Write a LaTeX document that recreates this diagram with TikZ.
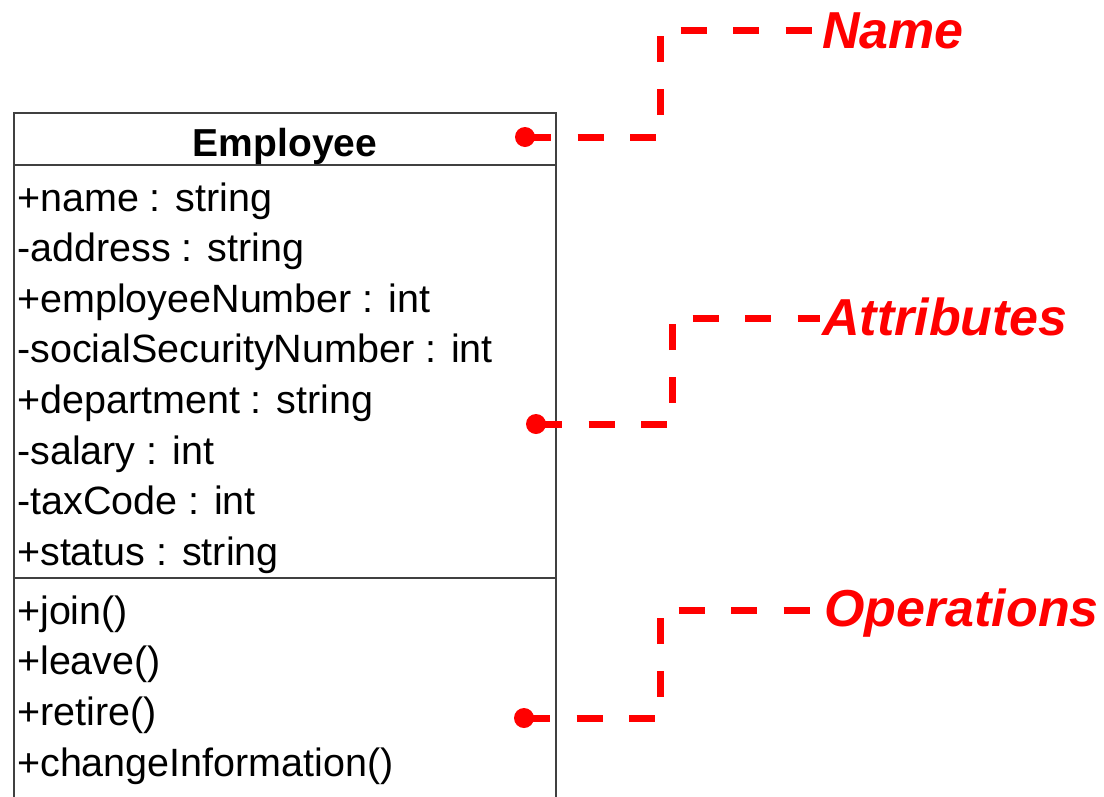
\documentclass[tikz,border=0pt]{standalone}
\usepackage{fontspec}
\setmainfont{Liberation Sans}
\begin{document}
\begin{tikzpicture}[x=1pt,y=-1pt]
\definecolor{boxgray}{RGB}{64,64,64}
\tikzset{
  boxline/.style={draw=boxgray, line width=2pt},
  attr/.style={anchor=base west, inner sep=0pt, font=\fontsize{39.5}{47}\selectfont},
  title/.style={anchor=base, inner sep=0pt, font=\fontsize{39}{46}\selectfont\bfseries},
  lbl/.style={anchor=base west, inner sep=0pt, text=red, font=\fontsize{52}{60}\selectfont\bfseries\itshape},
  lead/.style={draw=red, line width=7pt, dash pattern=on 26pt off 26.5pt},
  dotm/.style={circle, fill=red, inner sep=0pt, minimum size=20pt}
}
\useasboundingbox (0,0) rectangle (1104,796);
\clip (0,0) rectangle (1104,796);
% class box
\draw[boxline] (14,800) -- (14,113) -- (556,113) -- (556,800);
\draw[boxline] (14,165) -- (556,165);
\draw[boxline] (14,578) -- (556,578);
\node[title] (cls) at (285,156) {Employee};
\node[attr] (a1) at (17,211) {+name : string};
\node[attr] (a2) at (17,261) {-address : string};
\node[attr] (a3) at (17,312) {+employeeNumber : int};
\node[attr] (a4) at (17,362) {-socialSecurityNumber : int};
\node[attr] (a5) at (17,413) {+department : string};
\node[attr] (a6) at (17,464) {-salary : int};
\node[attr] (a7) at (17,514) {-taxCode : int};
\node[attr] (a8) at (17,565) {+status : string};
\node[attr] (o1) at (17,624) {+join()};
\node[attr] (o2) at (17,674) {+leave()};
\node[attr] (o3) at (17,725) {+retire()};
\node[attr] (o4) at (17,776) {+changeInformation()};
% labels
\node[lbl] (lname) at (822,48) {Name};
\node[lbl] (lattr) at (822,335) {Attributes};
\node[lbl] (lops) at (824,626) {Operations};
% dots
\node[dotm] (d1) at (525,137) {};
\node[dotm] (d2) at (536,424) {};
\node[dotm] (d3) at (524,718) {};
\coordinate (e1) at (812,30);
\coordinate (e2) at (820,318);
\coordinate (e3) at (812,610);
\draw[lead] (d1.center) -| (660,30) -- (e1);
\draw[lead] (d2.center) -| (672,318) -- (e2);
\draw[lead] (d3.center) -| (660,610) -- (e3);
\end{tikzpicture}
\end{document}
